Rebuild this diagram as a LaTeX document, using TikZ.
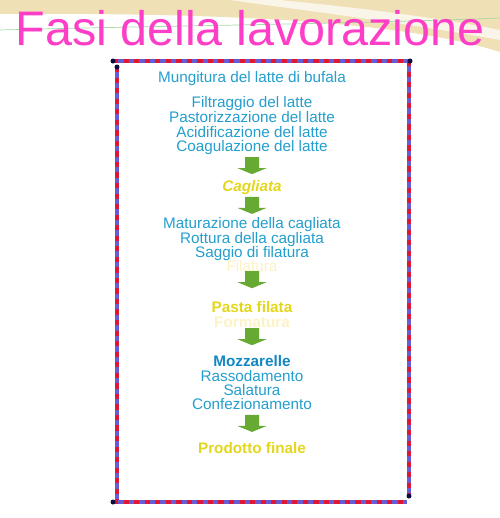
\documentclass[tikz,border=0pt]{standalone}
\usepackage{fontspec}
\setmainfont{Liberation Sans}
\definecolor{titlepink}{RGB}{255,62,200}
\definecolor{stepblue}{RGB}{35,158,205}
\definecolor{mozzblue}{RGB}{20,135,195}
\definecolor{stepyellow}{RGB}{228,214,28}
\definecolor{paleyellow}{RGB}{252,242,196}
\definecolor{arrowgreen}{RGB}{102,170,52}
\definecolor{framered}{RGB}{222,24,52}
\definecolor{frameblue}{RGB}{104,92,212}
\definecolor{framenavy}{RGB}{12,12,64}
\definecolor{sand}{RGB}{240,224,182}
\tikzset{
  flowtext/.style={text=stepblue},
  flowhead/.style={text=stepyellow, font=\fontsize{8.7}{10}\selectfont\bfseries},
  flowfaint/.style={text=paleyellow},
  framebar/.style={line width=0.08cm, frameblue},
  framestripe/.style={line width=0.08cm, framered, dash pattern=on 3pt off 3pt},
  flowarrow/.pic={
    \fill[arrowgreen] (-7,-8) -- (7,-8) -- (7,3) -- (14.5,3) -- (0,9) -- (-14.5,3) -- (-7,3) -- cycle;
  }
}
\begin{document}
\begin{tikzpicture}[x=0.02cm, y=-0.02cm,
  every node/.style={inner sep=0pt, anchor=base, font=\fontsize{8.7}{10}\selectfont}]
  \useasboundingbox (0,0) rectangle (500,518);

  % background
  \fill[sand] (0,0) -- (500,0) -- (500,52) .. controls (430,30) and (300,12) .. (0,14) -- cycle;
  \fill[white, opacity=0.7] (230,0) .. controls (300,10) and (400,22) .. (500,40) -- (500,30) .. controls (420,14) and (320,4) .. (280,0) -- cycle;
  \draw[green!40!gray!50, thin] (0,30) .. controls (150,26) and (350,24) .. (500,18);

  % title
  \node[text=titlepink, font=\fontsize{27.6}{30}\selectfont] (title) at (250,45) {Fasi della lavorazione};

  % frame
  \draw[framebar] (113,61) -- (410,61);
  \draw[framestripe] (113,61) -- (410,61);
  \draw[framebar] (117,67) -- (117,502);
  \draw[framestripe] (117,67) -- (117,502);
  \draw[framebar] (113,502) -- (407,502);
  \draw[framestripe] (113,502) -- (407,502);
  \draw[framebar] (409,61) -- (409,496);
  \draw[framestripe] (409,61) -- (409,496);
  \fill[framenavy] (113,61) circle (2.5) (410,61) circle (2.5) (117,67) circle (2.5)
    (113,502) circle (2.5) (409,496) circle (2.5);

  % steps
  \node[flowtext] (mung) at (252,82) {Mungitura del latte di bufala};
  \node[flowtext] (filt) at (252,107.5) {Filtraggio del latte};
  \node[flowtext] (past) at (252,122.5) {Pastorizzazione del latte};
  \node[flowtext] (acid) at (252,137.5) {Acidificazione del latte};
  \node[flowtext] (coag) at (252,151.5) {Coagulazione del latte};
  \node[flowhead, font=\fontsize{8.7}{10}\selectfont\bfseries\itshape] (cagl) at (252,191.5) {Cagliata};
  \node[flowtext] (matu) at (252,228.5) {Maturazione della cagliata};
  \node[flowtext] (rott) at (252,243.5) {Rottura della cagliata};
  \node[flowtext] (sagg) at (252,257.5) {Saggio di filatura};
  \node[flowfaint] (fila) at (252,271.5) {Filatura};
  \node[flowhead] (past2) at (252,312.5) {Pasta filata};
  \node[flowfaint, font=\fontsize{8.7}{10}\selectfont\bfseries] (form) at (252,327.5) {Formatura};
  \node[flowtext, text=mozzblue, font=\fontsize{8.7}{10}\selectfont\bfseries] (mozz) at (252,366.5) {Mozzarelle};
  \node[flowtext] (rass) at (252,381.5) {Rassodamento};
  \node[flowtext] (sala) at (252,395.5) {Salatura};
  \node[flowtext] (conf) at (252,409.5) {Confezionamento};
  \node[flowhead] (prod) at (252,453.5) {Prodotto finale};

  % arrows
  \path (coag.center) -- (cagl.center) coordinate[pos=0.44] (a1);
  \path (cagl.center) -- (matu.center) coordinate[pos=0.47] (a2);
  \path (sagg.center) -- (past2.center) coordinate[pos=0.48] (a3);
  \path (past2.center) -- (mozz.center) coordinate[pos=0.54] (a4);
  \path (conf.center) -- (prod.center) coordinate[pos=0.43] (a5);
  \foreach \a in {a1,a2,a3,a4,a5}
    \pic at (\a) {flowarrow};
\end{tikzpicture}
\end{document}
